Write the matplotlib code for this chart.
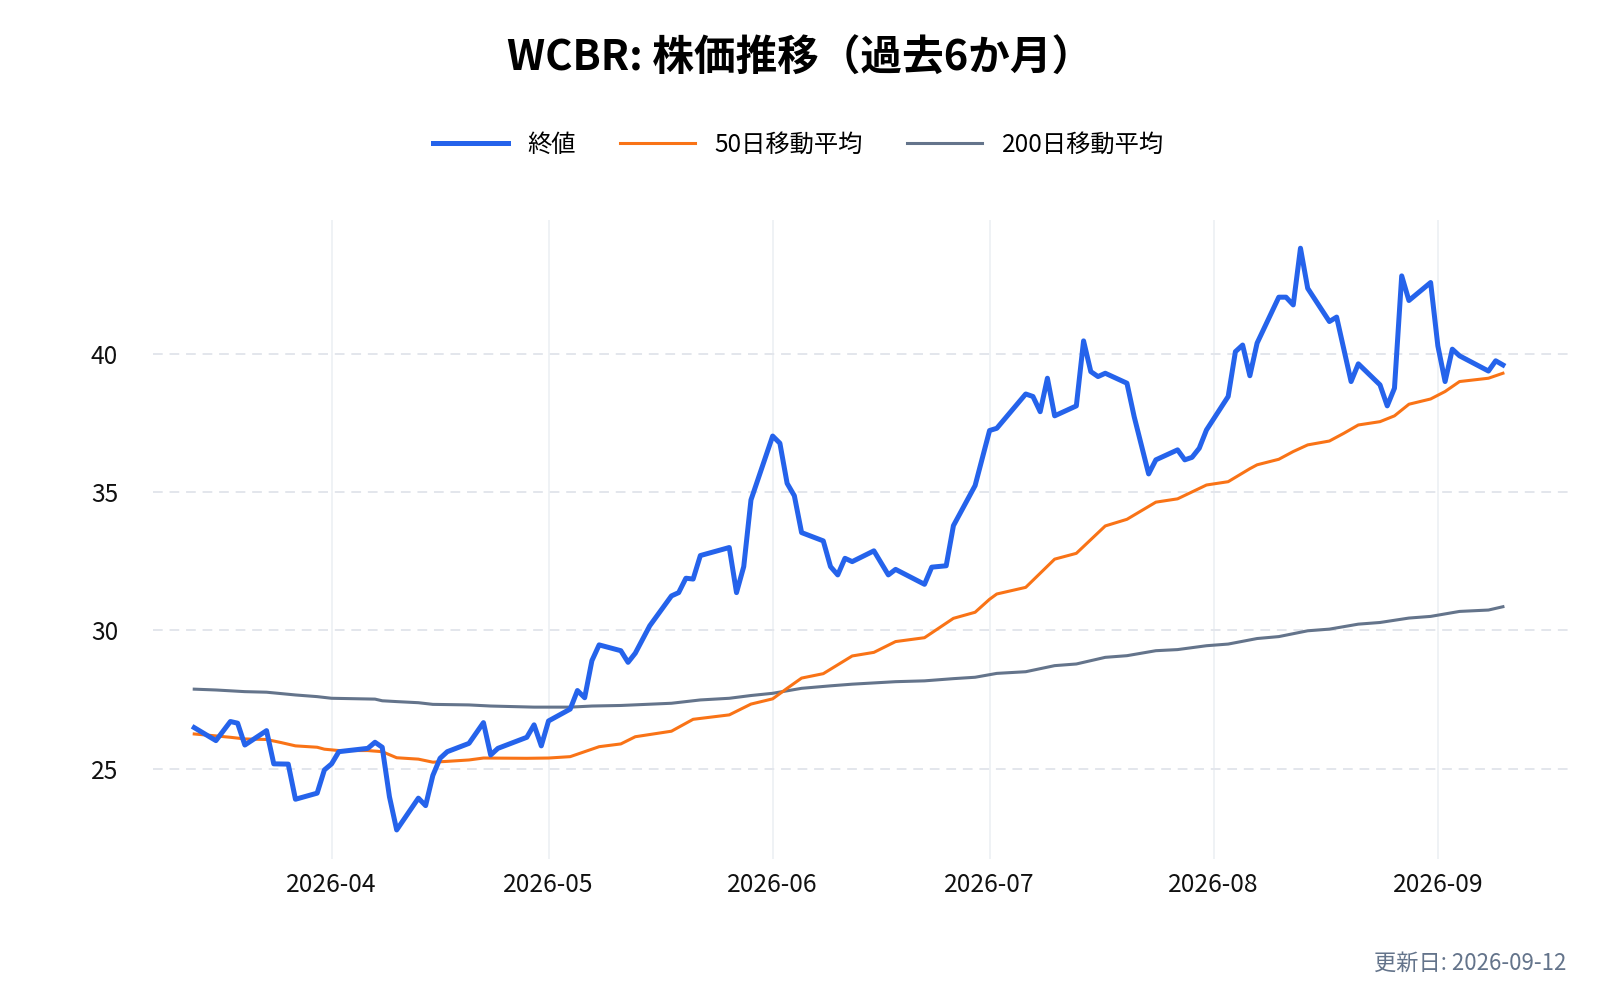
import matplotlib
matplotlib.use("Agg")
import matplotlib.pyplot as plt
import matplotlib.dates as mdates
import pandas as pd

plt.rcParams['font.family'] = ['Noto Sans CJK JP', 'DejaVu Sans']

# 終値
close_dates = [
    "2026-03-13", "2026-03-16", "2026-03-18", "2026-03-19", "2026-03-20", "2026-03-23",
    "2026-03-24", "2026-03-26", "2026-03-27", "2026-03-30", "2026-03-31", "2026-04-01",
    "2026-04-02", "2026-04-06", "2026-04-07", "2026-04-08", "2026-04-09", "2026-04-10",
    "2026-04-13", "2026-04-14", "2026-04-15", "2026-04-16", "2026-04-17", "2026-04-20",
    "2026-04-22", "2026-04-23", "2026-04-24", "2026-04-28", "2026-04-29", "2026-04-30",
    "2026-05-01", "2026-05-04", "2026-05-05", "2026-05-06", "2026-05-07", "2026-05-08",
    "2026-05-11", "2026-05-12", "2026-05-13", "2026-05-15", "2026-05-18", "2026-05-19",
    "2026-05-20", "2026-05-21", "2026-05-22", "2026-05-26", "2026-05-27", "2026-05-28",
    "2026-05-29", "2026-06-01", "2026-06-02", "2026-06-03", "2026-06-04", "2026-06-05",
    "2026-06-08", "2026-06-09", "2026-06-10", "2026-06-11", "2026-06-12", "2026-06-15",
    "2026-06-17", "2026-06-18", "2026-06-22", "2026-06-23", "2026-06-25", "2026-06-26",
    "2026-06-29", "2026-07-01", "2026-07-02", "2026-07-06", "2026-07-07", "2026-07-08",
    "2026-07-09", "2026-07-10", "2026-07-13", "2026-07-14", "2026-07-15", "2026-07-16",
    "2026-07-17", "2026-07-20", "2026-07-21", "2026-07-23", "2026-07-24", "2026-07-27",
    "2026-07-28", "2026-07-29", "2026-07-30", "2026-07-31", "2026-08-03", "2026-08-04",
    "2026-08-05", "2026-08-06", "2026-08-07", "2026-08-10", "2026-08-11", "2026-08-12",
    "2026-08-13", "2026-08-14", "2026-08-17", "2026-08-18", "2026-08-20", "2026-08-21",
    "2026-08-24", "2026-08-25", "2026-08-26", "2026-08-27", "2026-08-28", "2026-08-31",
    "2026-09-01", "2026-09-02", "2026-09-03", "2026-09-04", "2026-09-08", "2026-09-09",
    "2026-09-10",
]
close_values = [
    26.48, 26.01, 26.70, 26.64, 25.85, 26.37,
    25.17, 25.16, 23.89, 24.11, 24.95, 25.17,
    25.61, 25.73, 25.95, 25.77, 23.98, 22.78,
    23.93, 23.66, 24.75, 25.37, 25.61, 25.91,
    26.66, 25.49, 25.73, 26.13, 26.58, 25.82,
    26.72, 27.15, 27.82, 27.56, 28.90, 29.47,
    29.26, 28.84, 29.17, 30.16, 31.24, 31.36,
    31.88, 31.85, 32.70, 32.99, 31.36, 32.30,
    34.71, 37.02, 36.76, 35.31, 34.86, 33.53,
    33.23, 32.30, 32.00, 32.60, 32.48, 32.87,
    32.00, 32.20, 31.66, 32.28, 32.33, 33.78,
    35.23, 37.22, 37.30, 38.54, 38.45, 37.90,
    39.11, 37.75, 38.11, 40.46, 39.35, 39.17,
    39.29, 38.93, 37.72, 35.65, 36.16, 36.52,
    36.16, 36.25, 36.58, 37.24, 38.45, 40.07,
    40.31, 39.20, 40.38, 42.04, 42.04, 41.76,
    43.81, 42.36, 41.16, 41.32, 38.99, 39.63,
    38.87, 38.11, 38.75, 42.81, 41.92, 42.57,
    40.28, 38.99, 40.16, 39.92, 39.37, 39.74,
    39.59,
]

# 50日移動平均
ma50_dates = [
    "2026-03-13", "2026-03-16", "2026-03-18", "2026-03-20", "2026-03-23", "2026-03-25",
    "2026-03-27", "2026-03-30", "2026-03-31", "2026-04-02", "2026-04-06", "2026-04-08",
    "2026-04-10", "2026-04-13", "2026-04-15", "2026-04-17", "2026-04-20", "2026-04-22",
    "2026-04-28", "2026-05-01", "2026-05-04", "2026-05-06", "2026-05-08", "2026-05-11",
    "2026-05-13", "2026-05-18", "2026-05-21", "2026-05-26", "2026-05-29", "2026-06-01",
    "2026-06-03", "2026-06-05", "2026-06-08", "2026-06-12", "2026-06-15", "2026-06-18",
    "2026-06-22", "2026-06-26", "2026-06-29", "2026-07-01", "2026-07-02", "2026-07-06",
    "2026-07-10", "2026-07-13", "2026-07-17", "2026-07-20", "2026-07-24", "2026-07-27",
    "2026-07-31", "2026-08-03", "2026-08-06", "2026-08-07", "2026-08-10", "2026-08-12",
    "2026-08-14", "2026-08-17", "2026-08-19", "2026-08-21", "2026-08-24", "2026-08-26",
    "2026-08-28", "2026-08-31", "2026-09-02", "2026-09-04", "2026-09-08", "2026-09-10",
]
ma50_values = [
    26.25, 26.18, 26.13, 26.07, 26.05, 25.94,
    25.82, 25.77, 25.70, 25.65, 25.65, 25.61,
    25.39, 25.34, 25.23, 25.26, 25.31, 25.38,
    25.37, 25.38, 25.43, 25.61, 25.79, 25.89,
    26.15, 26.35, 26.78, 26.94, 27.33, 27.52,
    27.90, 28.27, 28.43, 29.07, 29.20, 29.59,
    29.73, 30.43, 30.65, 31.12, 31.31, 31.55,
    32.57, 32.78, 33.77, 34.01, 34.63, 34.75,
    35.25, 35.37, 35.84, 35.98, 36.18, 36.46,
    36.70, 36.84, 37.12, 37.42, 37.54, 37.75,
    38.17, 38.36, 38.63, 38.99, 39.11, 39.29,
]

# 200日移動平均
ma200_dates = [
    "2026-03-13", "2026-03-16", "2026-03-20", "2026-03-23", "2026-03-27", "2026-03-30",
    "2026-04-01", "2026-04-07", "2026-04-08", "2026-04-10", "2026-04-13", "2026-04-15",
    "2026-04-20", "2026-04-23", "2026-04-29", "2026-05-04", "2026-05-07", "2026-05-11",
    "2026-05-18", "2026-05-22", "2026-05-26", "2026-05-29", "2026-06-01", "2026-06-05",
    "2026-06-09", "2026-06-12", "2026-06-18", "2026-06-22", "2026-06-26", "2026-06-29",
    "2026-07-02", "2026-07-06", "2026-07-10", "2026-07-13", "2026-07-17", "2026-07-20",
    "2026-07-24", "2026-07-27", "2026-07-31", "2026-08-03", "2026-08-07", "2026-08-10",
    "2026-08-14", "2026-08-17", "2026-08-21", "2026-08-24", "2026-08-28", "2026-08-31",
    "2026-09-04", "2026-09-08", "2026-09-10",
]
ma200_values = [
    27.87, 27.84, 27.78, 27.76, 27.66, 27.60,
    27.54, 27.51, 27.45, 27.42, 27.38, 27.32,
    27.30, 27.26, 27.22, 27.22, 27.26, 27.28,
    27.36, 27.48, 27.54, 27.64, 27.72, 27.90,
    27.99, 28.05, 28.14, 28.17, 28.25, 28.30,
    28.44, 28.50, 28.72, 28.78, 29.02, 29.08,
    29.26, 29.30, 29.44, 29.50, 29.70, 29.77,
    29.98, 30.04, 30.22, 30.28, 30.44, 30.50,
    30.68, 30.73, 30.85,
]

title = "WCBR: 株価推移（過去6か月）"
updated = "更新日: 2026-09-12"

fig = plt.figure(figsize=(16, 10), dpi=100)
ax = fig.add_axes([0.0956, 0.141, 0.8844, 0.639])

ax.plot(pd.to_datetime(close_dates), close_values, color='#2563eb', lw=3.6,
        label='終値', zorder=4, solid_joinstyle='round')
ax.plot(pd.to_datetime(ma50_dates), ma50_values, color='#f97316', lw=2.2,
        label='50日移動平均', zorder=3)
ax.plot(pd.to_datetime(ma200_dates), ma200_values, color='#64748b', lw=2.2,
        label='200日移動平均', zorder=2)

ax.set_xlim(pd.Timestamp("2026-03-07 07:00"), pd.Timestamp("2026-09-19"))
ax.set_ylim(21.73, 44.83)

ax.xaxis.set_major_locator(mdates.MonthLocator())
ax.xaxis.set_major_formatter(mdates.DateFormatter('%Y-%m'))
ax.set_yticks([25, 30, 35, 40])

ax.tick_params(axis='x', length=0, pad=9, labelsize=17.7, labelcolor='#111111')
ax.tick_params(axis='y', length=0, pad=25, labelsize=17.7, labelcolor='#111111')

ax.grid(axis='x', color='#eef1f5', lw=1.3, linestyle='-')
ax.grid(axis='y', color='#e3e6ec', lw=1.4, linestyle=(0, (5, 3.5)))
ax.set_axisbelow(True)
for s in ax.spines.values():
    s.set_visible(False)

fig.text(0.5, 0.941, title, ha='center', va='center', fontsize=30,
         fontweight='bold', color='#000000')

fig.legend(loc='center', bbox_to_anchor=(0.499, 0.855), ncol=3, frameon=False,
           fontsize=17.5, handlelength=3.1, handletextpad=0.8, columnspacing=1.8)

fig.text(0.979, 0.037, updated, ha='right', va='center', fontsize=16,
         color='#64748b')

fig.savefig('out.png', dpi=100, facecolor='white')
